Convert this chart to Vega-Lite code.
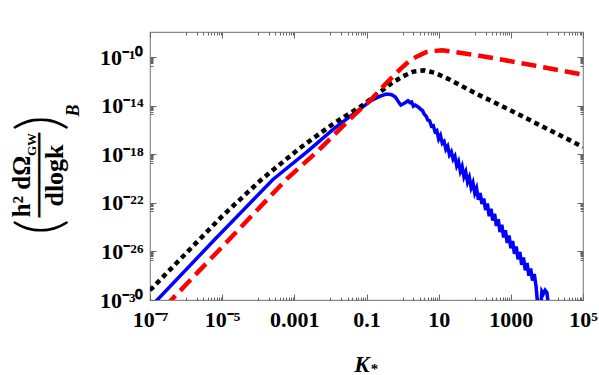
{
  "$schema": "https://vega.github.io/schema/vega-lite/v6.json",
  "width": 433,
  "height": 268,
  "autosize": {"type": "none"},
  "padding": {"left": 150, "top": 32, "right": 16, "bottom": 75},
  "background": "white",
  "config": {
    "view": {"stroke": "#8a8a8a", "strokeWidth": 1.2},
    "axis": {"labelColor": "#000", "titleColor": "#000"}
  },
  "data": {
    "values": [
      {"s": "A", "k": 1e-7, "v": 2.818e-31},
      {"s": "A", "k": 1.585e-7, "v": 1e-30},
      {"s": "A", "k": 6.31e-6, "v": 1e-25},
      {"s": "A", "k": 2.512e-4, "v": 7.943e-21},
      {"s": "A", "k": 2.239e-3, "v": 1.585e-18},
      {"s": "A", "k": 1.259e-2, "v": 1.259e-16},
      {"s": "A", "k": 7.079e-2, "v": 6.31e-15},
      {"s": "A", "k": 0.1413, "v": 2.818e-14},
      {"s": "A", "k": 0.2512, "v": 6.31e-14},
      {"s": "A", "k": 0.3548, "v": 8.913e-14},
      {"s": "A", "k": 0.5012, "v": 7.943e-14},
      {"s": "A", "k": 0.631, "v": 5.012e-14},
      {"s": "A", "k": 0.7943, "v": 1.778e-14},
      {"s": "A", "k": 0.8913, "v": 1.122e-14},
      {"s": "A", "k": 1.122, "v": 1.585e-14},
      {"s": "A", "k": 1.413, "v": 2.512e-14},
      {"s": "A", "k": 1.585, "v": 1.778e-14},
      {"s": "A", "k": 1.778, "v": 1.995e-14},
      {"s": "A", "k": 1.995, "v": 8.913e-15},
      {"s": "A", "k": 2.239, "v": 1.122e-14},
      {"s": "A", "k": 2.512, "v": 8.913e-15},
      {"s": "A", "k": 2.818, "v": 7.079e-15},
      {"s": "A", "k": 3.162, "v": 5.012e-15},
      {"s": "A", "k": 3.548, "v": 3.981e-15},
      {"s": "A", "k": 3.981, "v": 1.995e-15},
      {"s": "A", "k": 4.467, "v": 1.413e-15},
      {"s": "A", "k": 5.012, "v": 6.31e-16},
      {"s": "A", "k": 5.623, "v": 5.623e-16},
      {"s": "A", "k": 6.31, "v": 1.995e-16},
      {"s": "A", "k": 7.079, "v": 2.239e-16},
      {"s": "A", "k": 7.943, "v": 7.079e-17},
      {"s": "A", "k": 8.913, "v": 8.913e-17},
      {"s": "A", "k": 10, "v": 1.778e-17},
      {"s": "A", "k": 11.22, "v": 3.548e-17},
      {"s": "A", "k": 12.59, "v": 7.943e-18},
      {"s": "A", "k": 14.13, "v": 1.122e-17},
      {"s": "A", "k": 15.85, "v": 2.512e-18},
      {"s": "A", "k": 17.78, "v": 4.467e-18},
      {"s": "A", "k": 19.95, "v": 8.913e-19},
      {"s": "A", "k": 22.39, "v": 1.585e-18},
      {"s": "A", "k": 25.12, "v": 3.981e-19},
      {"s": "A", "k": 28.18, "v": 7.079e-19},
      {"s": "A", "k": 31.62, "v": 1.122e-19},
      {"s": "A", "k": 35.48, "v": 2.512e-19},
      {"s": "A", "k": 39.81, "v": 3.981e-20},
      {"s": "A", "k": 44.67, "v": 1e-19},
      {"s": "A", "k": 50.12, "v": 1.413e-20},
      {"s": "A", "k": 56.23, "v": 3.548e-20},
      {"s": "A", "k": 63.1, "v": 5.012e-21},
      {"s": "A", "k": 70.79, "v": 1.259e-20},
      {"s": "A", "k": 79.43, "v": 1.778e-21},
      {"s": "A", "k": 89.13, "v": 4.467e-21},
      {"s": "A", "k": 100, "v": 6.31e-22},
      {"s": "A", "k": 112.2, "v": 1.585e-21},
      {"s": "A", "k": 125.9, "v": 1.778e-22},
      {"s": "A", "k": 141.3, "v": 6.31e-22},
      {"s": "A", "k": 158.5, "v": 7.943e-23},
      {"s": "A", "k": 177.8, "v": 2.239e-22},
      {"s": "A", "k": 199.5, "v": 2.512e-23},
      {"s": "A", "k": 223.9, "v": 8.913e-23},
      {"s": "A", "k": 251.2, "v": 7.943e-24},
      {"s": "A", "k": 281.8, "v": 3.162e-23},
      {"s": "A", "k": 316.2, "v": 3.548e-24},
      {"s": "A", "k": 354.8, "v": 1.259e-23},
      {"s": "A", "k": 398.1, "v": 1.259e-24},
      {"s": "A", "k": 446.7, "v": 4.467e-24},
      {"s": "A", "k": 501.2, "v": 3.981e-25},
      {"s": "A", "k": 562.3, "v": 1.585e-24},
      {"s": "A", "k": 631, "v": 1.413e-25},
      {"s": "A", "k": 707.9, "v": 5.623e-25},
      {"s": "A", "k": 794.3, "v": 5.012e-26},
      {"s": "A", "k": 891.3, "v": 1.995e-25},
      {"s": "A", "k": 1000, "v": 1.778e-26},
      {"s": "A", "k": 1122, "v": 7.079e-26},
      {"s": "A", "k": 1259, "v": 6.31e-27},
      {"s": "A", "k": 1413, "v": 2.512e-26},
      {"s": "A", "k": 1585, "v": 2.239e-27},
      {"s": "A", "k": 1778, "v": 8.913e-27},
      {"s": "A", "k": 1995, "v": 7.943e-28},
      {"s": "A", "k": 2239, "v": 3.162e-27},
      {"s": "A", "k": 2512, "v": 2.818e-28},
      {"s": "A", "k": 2818, "v": 1.122e-27},
      {"s": "A", "k": 3162, "v": 1e-28},
      {"s": "A", "k": 3548, "v": 3.981e-28},
      {"s": "A", "k": 3981, "v": 3.981e-29},
      {"s": "A", "k": 4467, "v": 1.413e-28},
      {"s": "A", "k": 5012, "v": 1.259e-29},
      {"s": "A", "k": 5623, "v": 2.512e-31},
      {"s": "A", "k": 6607, "v": 1e-31},
      {"s": "A", "k": 7244, "v": 5.012e-30},
      {"s": "A", "k": 7943, "v": 3.162e-30},
      {"s": "A", "k": 8913, "v": 6.31e-30},
      {"s": "A", "k": 10000, "v": 3.981e-30},
      {"s": "A", "k": 11220, "v": 2.512e-31},
      {"s": "A", "k": 12590, "v": 1e-31},

      {"s": "B", "k": 1e-7, "v": 1.413e-32},
      {"s": "B", "k": 3.89e-7, "v": 1e-30},
      {"s": "B", "k": 1.585e-5, "v": 1e-25},
      {"s": "B", "k": 6.31e-4, "v": 1e-20},
      {"s": "B", "k": 4.266e-3, "v": 1.585e-18},
      {"s": "B", "k": 3.631e-2, "v": 8.913e-16},
      {"s": "B", "k": 0.1288, "v": 2.818e-14},
      {"s": "B", "k": 0.3548, "v": 7.079e-13},
      {"s": "B", "k": 0.8913, "v": 1.122e-11},
      {"s": "B", "k": 1.585, "v": 5.012e-11},
      {"s": "B", "k": 2.512, "v": 1.122e-10},
      {"s": "B", "k": 4.467, "v": 2.512e-10},
      {"s": "B", "k": 7.079, "v": 3.162e-10},
      {"s": "B", "k": 12.59, "v": 3.548e-10},
      {"s": "B", "k": 22.39, "v": 2.818e-10},
      {"s": "B", "k": 177.8, "v": 1.122e-10},
      {"s": "B", "k": 4467, "v": 1.995e-11},
      {"s": "B", "k": 100000, "v": 3.548e-12},

      {"s": "C", "k": 1e-7, "v": 6.31e-30},
      {"s": "C", "k": 1e-6, "v": 7.079e-27},
      {"s": "C", "k": 1e-5, "v": 7.943e-24},
      {"s": "C", "k": 1.259e-4, "v": 8.913e-21},
      {"s": "C", "k": 1.413e-3, "v": 3.162e-18},
      {"s": "C", "k": 1.259e-2, "v": 3.548e-16},
      {"s": "C", "k": 7.079e-2, "v": 8.913e-15},
      {"s": "C", "k": 0.1995, "v": 8.913e-14},
      {"s": "C", "k": 0.5012, "v": 7.079e-13},
      {"s": "C", "k": 1, "v": 2.512e-12},
      {"s": "C", "k": 1.995, "v": 6.31e-12},
      {"s": "C", "k": 3.981, "v": 7.943e-12},
      {"s": "C", "k": 7.943, "v": 5.012e-12},
      {"s": "C", "k": 19.95, "v": 1.413e-12},
      {"s": "C", "k": 100, "v": 1.122e-13},
      {"s": "C", "k": 1000, "v": 3.981e-15},
      {"s": "C", "k": 10000, "v": 1.259e-16},
      {"s": "C", "k": 100000, "v": 3.981e-18}
    ]
  },
  "resolve": {"axis": {"x": "independent", "y": "independent"}},
  "layer": [
    {
      "transform": [{"filter": "datum.s === 'A'"}],
      "mark": {"type": "line", "color": "#0000ff", "strokeWidth": 3.5, "clip": true},
      "encoding": {
        "x": {"field": "k", "type": "quantitative",
          "scale": {"type": "log", "domain": [1e-7, 100000], "nice": false},
          "axis": {"orient": "bottom", "values": [1e-7, 1e-5, 0.001, 0.1, 10, 1000, 100000],
            "ticks": false, "domain": false, "grid": false,
            "title": "*", "titleX": 224, "titleY": 68, "titleAngle": 0, "titleAlign": "center", "titleBaseline": "middle",
            "titleFont": "Liberation Serif", "titleFontSize": 15, "titleFontWeight": "bold",
            "labelFont": "Liberation Serif", "labelFontWeight": "bold", "labelFontSize": 22,
            "labelPadding": 9, "labelFlush": false, "labelOverlap": false,
            "labelExpr": "datum.value < 2e-7 ? '10⁻⁷' : datum.value < 2e-5 ? '10⁻⁵' : datum.value < 0.002 ? '0.001' : datum.value < 0.2 ? '0.1' : datum.value < 20 ? '10' : datum.value < 2000 ? '1000' : '10⁵'"}},
        "y": {"field": "v", "type": "quantitative",
          "scale": {"type": "log", "domain": [1e-30, 1.15e-8], "nice": false},
          "axis": {"orient": "left", "values": [1e-30, 1e-26, 1e-22, 1e-18, 1e-14, 1e-10],
            "ticks": false, "domain": false, "grid": false, "title": null,
            "labelFont": "Liberation Serif", "labelFontWeight": "bold", "labelFontSize": 22,
            "labelPadding": 7, "labelFlush": false, "labelOverlap": false,
            "labelExpr": "datum.value < 1e-29 ? '10⁻³⁰' : datum.value < 1e-25 ? '10⁻²⁶' : datum.value < 1e-21 ? '10⁻²²' : datum.value < 1e-17 ? '10⁻¹⁸' : datum.value < 1e-13 ? '10⁻¹⁴' : '10⁻¹⁰'"}}
      }
    },
    {
      "transform": [{"filter": "datum.s === 'C'"}],
      "mark": {"type": "line", "color": "#000000", "strokeWidth": 4.5, "strokeDash": [5, 4], "clip": true},
      "encoding": {
        "x": {"field": "k", "type": "quantitative",
          "scale": {"type": "log", "domain": [1e-7, 100000], "nice": false},
          "axis": {"orient": "bottom", "labels": false, "domain": false, "grid": false, "title": null,
            "tickColor": "#666", "tickWidth": 1,
            "values": [1e-7, 1e-6, 2e-6, 3e-6, 4e-6, 5e-6, 6e-6, 7e-6, 8e-6, 9e-6, 1e-5, 1e-4, 2e-4, 3e-4, 4e-4, 5e-4, 6e-4, 7e-4, 8e-4, 9e-4, 0.001, 0.01, 0.02, 0.03, 0.04, 0.05, 0.06, 0.07, 0.08, 0.09, 0.1, 1, 2, 3, 4, 5, 6, 7, 8, 9, 10, 100, 200, 300, 400, 500, 600, 700, 800, 900, 1000, 10000, 20000, 30000, 40000, 50000, 60000, 70000, 80000, 90000, 100000],
            "tickSize": {"condition": {"test": "indexof([1e-7, 1e-5, 0.001, 0.1, 10, 1000, 100000], datum.value) >= 0", "value": -6}, "value": -3}}},
        "y": {"field": "v", "type": "quantitative",
          "scale": {"type": "log", "domain": [1e-30, 1.15e-8], "nice": false},
          "axis": {"orient": "left", "labels": false, "domain": false, "grid": false, "title": null,
            "tickColor": "#666", "tickWidth": 1,
            "values": [1e-30, 2e-27, 3e-27, 4e-27, 5e-27, 6e-27, 7e-27, 8e-27, 9e-27, 1e-26, 2e-23, 3e-23, 4e-23, 5e-23, 6e-23, 7e-23, 8e-23, 9e-23, 1e-22, 2e-19, 3e-19, 4e-19, 5e-19, 6e-19, 7e-19, 8e-19, 9e-19, 1e-18, 2e-15, 3e-15, 4e-15, 5e-15, 6e-15, 7e-15, 8e-15, 9e-15, 1e-14, 2e-11, 3e-11, 4e-11, 5e-11, 6e-11, 7e-11, 8e-11, 9e-11, 1e-10],
            "tickSize": {"condition": {"test": "indexof([1e-30, 1e-26, 1e-22, 1e-18, 1e-14, 1e-10], datum.value) >= 0", "value": -6}, "value": -3}}}
      }
    },
    {
      "transform": [{"filter": "datum.s === 'B'"}],
      "mark": {"type": "line", "color": "#ff0000", "strokeWidth": 4.5, "strokeDash": [15, 7], "clip": true},
      "encoding": {
        "x": {"field": "k", "type": "quantitative",
          "scale": {"type": "log", "domain": [1e-7, 100000], "nice": false},
          "axis": {"orient": "top", "labels": false, "domain": false, "grid": false, "title": null,
            "tickColor": "#666", "tickWidth": 1,
            "values": [1e-7, 1e-6, 2e-6, 3e-6, 4e-6, 5e-6, 6e-6, 7e-6, 8e-6, 9e-6, 1e-5, 1e-4, 2e-4, 3e-4, 4e-4, 5e-4, 6e-4, 7e-4, 8e-4, 9e-4, 0.001, 0.01, 0.02, 0.03, 0.04, 0.05, 0.06, 0.07, 0.08, 0.09, 0.1, 1, 2, 3, 4, 5, 6, 7, 8, 9, 10, 100, 200, 300, 400, 500, 600, 700, 800, 900, 1000, 10000, 20000, 30000, 40000, 50000, 60000, 70000, 80000, 90000, 100000],
            "tickSize": {"condition": {"test": "indexof([1e-7, 1e-5, 0.001, 0.1, 10, 1000, 100000], datum.value) >= 0", "value": -6}, "value": -3}}},
        "y": {"field": "v", "type": "quantitative",
          "scale": {"type": "log", "domain": [1e-30, 1.15e-8], "nice": false},
          "axis": {"orient": "right", "labels": false, "domain": false, "grid": false, "title": null,
            "tickColor": "#666", "tickWidth": 1,
            "values": [1e-30, 2e-27, 3e-27, 4e-27, 5e-27, 6e-27, 7e-27, 8e-27, 9e-27, 1e-26, 2e-23, 3e-23, 4e-23, 5e-23, 6e-23, 7e-23, 8e-23, 9e-23, 1e-22, 2e-19, 3e-19, 4e-19, 5e-19, 6e-19, 7e-19, 8e-19, 9e-19, 1e-18, 2e-15, 3e-15, 4e-15, 5e-15, 6e-15, 7e-15, 8e-15, 9e-15, 1e-14, 2e-11, 3e-11, 4e-11, 5e-11, 6e-11, 7e-11, 8e-11, 9e-11, 1e-10],
            "tickSize": {"condition": {"test": "indexof([1e-30, 1e-26, 1e-22, 1e-18, 1e-14, 1e-10], datum.value) >= 0", "value": -6}, "value": -3}}}
      }
    },
    {
      "transform": [{"filter": "datum.s === 'C'"}],
      "mark": {"type": "point", "opacity": 0, "clip": true},
      "encoding": {
        "x": {"field": "k", "type": "quantitative",
          "scale": {"type": "log", "domain": [1e-7, 100000], "nice": false},
          "axis": {"orient": "bottom", "labels": false, "ticks": false, "domain": false, "grid": false,
            "title": "K", "titleX": 211.5, "titleY": 64, "titleAngle": 0, "titleAlign": "center", "titleBaseline": "middle",
            "titleFont": "Liberation Serif", "titleFontSize": 23, "titleFontWeight": "bold", "titleFontStyle": "italic"}},
        "y": {"field": "v", "type": "quantitative",
          "scale": {"type": "log", "domain": [1e-30, 1.15e-8], "nice": false},
          "axis": {"orient": "left", "labels": false, "ticks": false, "domain": false, "grid": false,
            "title": "(", "titleX": -110, "titleY": 194.5, "titleAngle": 270, "titleAlign": "center", "titleBaseline": "middle",
            "titleFont": "Lato", "titleFontSize": 62, "titleFontWeight": 300}}
      }
    },
    {
      "transform": [{"filter": "datum.s === 'C'"}],
      "mark": {"type": "point", "opacity": 0, "clip": true},
      "encoding": {
        "x": {"field": "k", "type": "quantitative",
          "scale": {"type": "log", "domain": [1e-7, 100000], "nice": false},
          "axis": {"orient": "bottom", "labels": false, "ticks": false, "domain": false, "grid": false,
            "title": ")", "titleX": -110, "titleY": -177.5, "titleAngle": 270, "titleAlign": "center", "titleBaseline": "middle",
            "titleFont": "Lato", "titleFontSize": 62, "titleFontWeight": 300}},
        "y": {"field": "v", "type": "quantitative",
          "scale": {"type": "log", "domain": [1e-30, 1.15e-8], "nice": false},
          "axis": {"orient": "left", "labels": false, "ticks": false, "domain": false, "grid": false,
            "title": "B", "titleX": -77, "titleY": 78, "titleAngle": 270, "titleAlign": "center", "titleBaseline": "middle",
            "titleFont": "Liberation Serif", "titleFontSize": 18, "titleFontWeight": "bold", "titleFontStyle": "italic"}}
      }
    },
    {
      "transform": [{"filter": "datum.s === 'C'"}],
      "mark": {"type": "point", "opacity": 0, "clip": true},
      "encoding": {
        "x": {"field": "k", "type": "quantitative",
          "scale": {"type": "log", "domain": [1e-7, 100000], "nice": false},
          "axis": {"orient": "bottom", "labels": false, "ticks": false, "domain": false, "grid": false,
            "title": "h² dΩ", "titleX": -128.5, "titleY": -114, "titleAngle": 270, "titleAlign": "center", "titleBaseline": "middle",
            "titleFont": "Liberation Serif", "titleFontSize": 25, "titleFontWeight": "bold"}},
        "y": {"field": "v", "type": "quantitative",
          "scale": {"type": "log", "domain": [1e-30, 1.15e-8], "nice": false},
          "axis": {"orient": "left", "labels": false, "ticks": false, "domain": false, "grid": false,
            "title": "GW", "titleX": -119, "titleY": 112, "titleAngle": 270, "titleAlign": "center", "titleBaseline": "middle",
            "titleFont": "Liberation Serif", "titleFontSize": 13, "titleFontWeight": "bold"}}
      }
    },
    {
      "transform": [{"filter": "datum.s === 'C'"}],
      "mark": {"type": "point", "opacity": 0, "clip": true},
      "encoding": {
        "x": {"field": "k", "type": "quantitative",
          "scale": {"type": "log", "domain": [1e-7, 100000], "nice": false},
          "axis": {"orient": "bottom", "labels": false, "ticks": false, "domain": false, "grid": false,
            "title": "─────", "titleX": -110, "titleY": -125.5, "titleAngle": 270, "titleAlign": "center", "titleBaseline": "middle",
            "titleFont": "DejaVu Sans Mono", "titleFontSize": 28, "titleFontWeight": "normal"}},
        "y": {"field": "v", "type": "quantitative",
          "scale": {"type": "log", "domain": [1e-30, 1.15e-8], "nice": false},
          "axis": {"orient": "left", "labels": false, "ticks": false, "domain": false, "grid": false,
            "title": "dlogk", "titleX": -96, "titleY": 143, "titleAngle": 270, "titleAlign": "center", "titleBaseline": "middle",
            "titleFont": "Liberation Serif", "titleFontSize": 26, "titleFontWeight": "bold"}}
      }
    }
  ]
}
